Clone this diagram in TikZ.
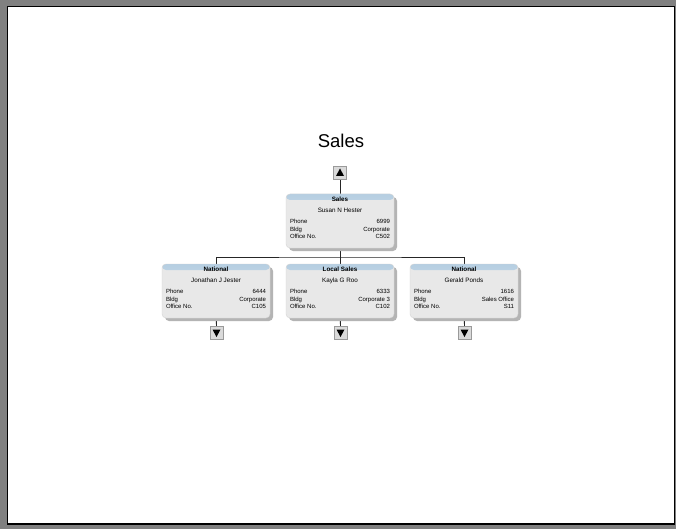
\documentclass[tikz,border=0pt]{standalone}
\usepackage{fontspec}
\setmainfont{Liberation Sans}
\usetikzlibrary{shadows}
\definecolor{framegray}{HTML}{808080}
\definecolor{cardgray}{HTML}{E8E8E8}
\definecolor{cardedge}{HTML}{D4D4D4}
\definecolor{bandblue}{HTML}{B4CEE2}
\definecolor{shadowgray}{HTML}{B4B4B4}
\definecolor{btnfill}{HTML}{DADADA}
\definecolor{btnedge}{HTML}{9A9A9A}
\pgfdeclarelayer{bg}
\pgfsetlayers{bg,main}
\tikzset{
  card/.style={rectangle, rounded corners=4pt, minimum width=108pt, minimum height=54pt,
    inner sep=0pt, fill=cardgray, draw=cardedge, line width=0.4pt,
    drop shadow={shadow xshift=3pt, shadow yshift=-3pt, fill=shadowgray, opacity=1},
    path picture={\fill[top color=bandblue, bottom color=cardgray]
      ([yshift=1pt]path picture bounding box.north west) rectangle
      ([yshift=-6pt]path picture bounding box.north east);}},
  ttl/.style={inner sep=0pt, anchor=base, font=\fontsize{6.3}{7}\selectfont\bfseries},
  txt/.style={inner sep=0pt, anchor=base, font=\fontsize{6.3}{7}\selectfont},
  lbl/.style={inner sep=0pt, anchor=base west, font=\fontsize{6}{7}\selectfont},
  val/.style={inner sep=0pt, anchor=base east, font=\fontsize{6}{7}\selectfont},
  btn/.style={rectangle, minimum width=13pt, minimum height=13pt, inner sep=0pt,
    fill=btnfill, draw=btnedge, line width=0.5pt},
  btnup/.style={btn, path picture={\fill[black]
      ([yshift=4pt]path picture bounding box.center) --
      ([xshift=-4pt,yshift=-3.5pt]path picture bounding box.center) --
      ([xshift=4pt,yshift=-3.5pt]path picture bounding box.center) -- cycle;}},
  btndown/.style={btn, path picture={\fill[black]
      ([yshift=-4pt]path picture bounding box.center) --
      ([xshift=-4pt,yshift=3.5pt]path picture bounding box.center) --
      ([xshift=4pt,yshift=3.5pt]path picture bounding box.center) -- cycle;}},
  conn/.style={draw=black!85, line width=0.8pt}
}
\newcommand\orgcard[8]{%
  \node[card] (#1) at (#2,#3+27) {};
  \node[ttl] (#1-t) at ([yshift=-8pt]#1.north) {#4};
  \node[txt] (#1-n) at ([yshift=-19pt]#1.north) {#5};
  \node[lbl] (#1-pl) at ([xshift=4pt,yshift=-30pt]#1.north west) {Phone};
  \node[val] (#1-pv) at ([xshift=-4pt,yshift=-30pt]#1.north east) {#6};
  \node[lbl] (#1-bl) at ([xshift=4pt,yshift=-37.5pt]#1.north west) {Bldg};
  \node[val] (#1-bv) at ([xshift=-4pt,yshift=-37.5pt]#1.north east) {#7};
  \node[lbl] (#1-ol) at ([xshift=4pt,yshift=-45pt]#1.north west) {Office No.};
  \node[val] (#1-ov) at ([xshift=-4pt,yshift=-45pt]#1.north east) {#8};
}
\begin{document}
\begin{tikzpicture}[x=1pt,y=-1pt]
\useasboundingbox (0,0) rectangle (676,529);
\begin{pgfonlayer}{bg}
\fill[framegray] (0,0) rectangle (676,529);
\fill[white] (7,6) rectangle (675,524.5);
\draw[black, line width=1.5pt] (7.5,6.5) rectangle (674.5,524);
\end{pgfonlayer}

\node[inner sep=0pt, font=\fontsize{18.5}{22}\selectfont] (title) at (341,141) {Sales};

\node[btnup] (up) at (340,172.5) {};
\orgcard{sales}{340}{194}{Sales}{Susan N Hester}{6999}{Corporate}{C502}
\orgcard{nat1}{216}{264}{National}{Jonathan J Jester}{6444}{Corporate}{C105}
\orgcard{local}{340}{264}{Local Sales}{Kayla G Roo}{6333}{Corporate 3}{C102}
\orgcard{nat2}{464}{264}{National}{Gerald Ponds}{1616}{Sales Office}{S11}

\node[btndown] (d1) at (216.5,333) {};
\node[btndown] (d2) at (340.5,333) {};
\node[btndown] (d3) at (464.5,333) {};

\coordinate (bus) at (340,257);

\begin{pgfonlayer}{bg}
\draw[conn] (up) -- (sales);
\draw[conn] (sales) -- (bus);
\draw[conn] (nat1.north) |- (bus) -| (nat2.north);
\draw[conn] (bus) -- (local.north);
\draw[conn] (nat1) -- (d1);
\draw[conn] (local) -- (d2);
\draw[conn] (nat2) -- (d3);
\end{pgfonlayer}
\end{tikzpicture}
\end{document}
